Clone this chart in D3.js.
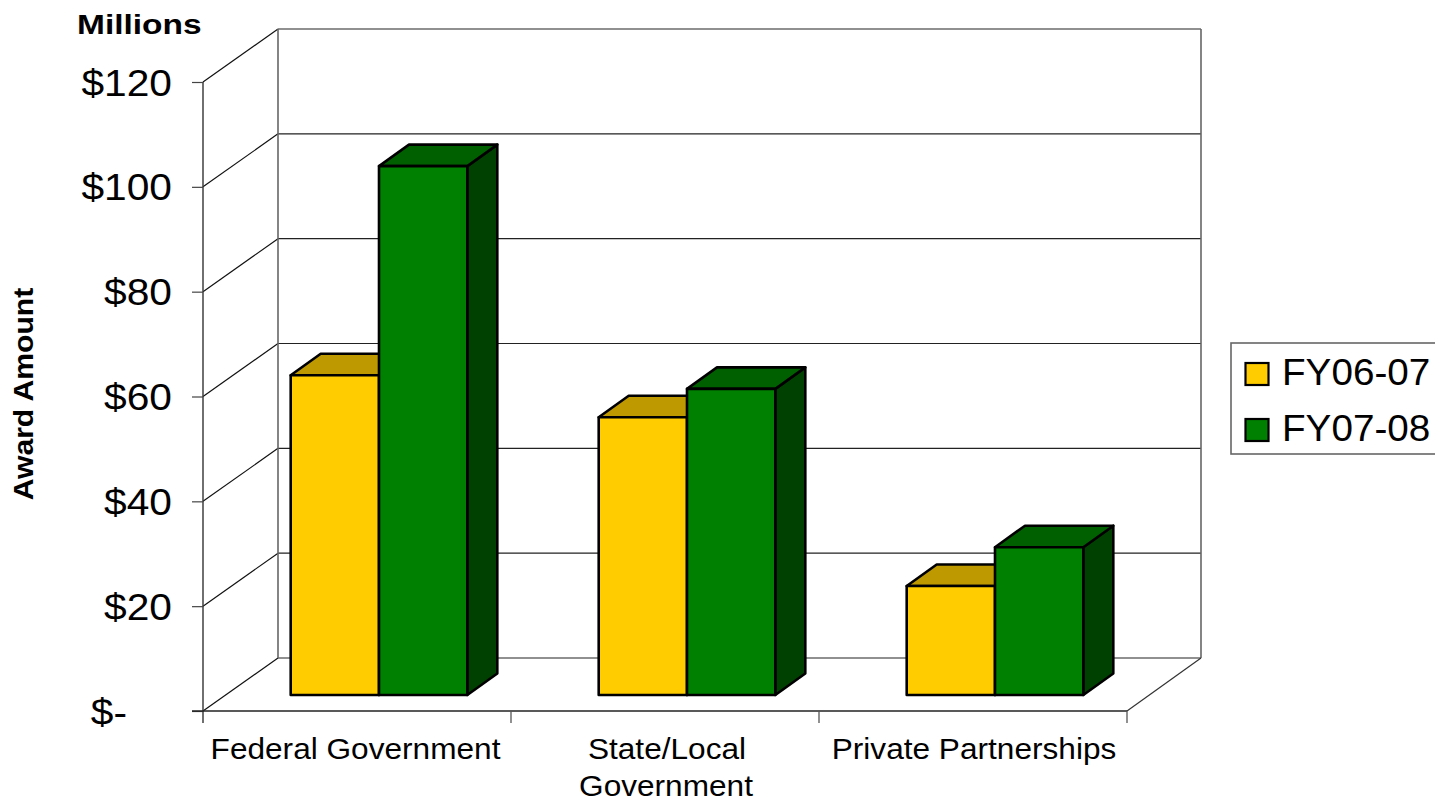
<!DOCTYPE html>
<html><head><meta charset="utf-8">
<script src="https://cdn.jsdelivr.net/npm/d3@7"></script>
<style>html,body{margin:0;padding:0;background:#fff;overflow:hidden}svg{display:block}text{font-family:"Liberation Sans",Arial,sans-serif;fill:#000}</style>
</head><body><svg id="c" width="1435" height="801"></svg>
<script>
const categories=["Federal Government","State/Local Government","Private Partnerships"];
const seriesNames=["FY06-07","FY07-08"];
const fy0607=[61,53,20.8];
const fy0708=[100.9,58.4,28.2];
const yTicks=[0,20,40,60,80,100,120];
const yTickLabels=["$-","$20","$40","$60","$80","$100","$120"];
const faceColors=["#FFCC00","#008000"];
const topColors=["#BF9900","#006000"];
const sideColors=["#806600","#004000"];

const svg=d3.select("#c");
const x0=203,x1=1127,yB=711,yT=82;
const dx=75,dy=-53;
const y=d3.scaleLinear().domain([0,120]).range([yB,yT]);
const x=d3.scaleBand().domain(categories).range([x0,x1]);
const barW=88.3, barOffX=22, barOffY=-16, depthX=30, depthY=-21.5;
const bx=d3.scaleBand().domain(seriesNames).range([-barW,barW]);

// walls
const grid=svg.append("g");
const ln=(a,b,c,d,col,w)=>grid.append("line").attr("x1",a).attr("y1",b).attr("x2",c).attr("y2",d).attr("stroke",col).attr("stroke-width",w||1);
yTicks.forEach(t=>{
  const p=y(t);
  ln(x0,p,x0+dx,p+dy,"#111",1.2);
  ln(x0+dx,p+dy,x0+dx+x.step()*3-1,p+dy,"#222",1.2);
});
ln(x0+dx,y(120)+dy,x0+dx,y(0)+dy,"#666",1.6);
ln(x1+dx-1,y(120)+dy,x1+dx-1,y(0)+dy,"#666",1.6);
ln(x1,yB,x1+dx-1,yB+dy,"#333",1.2);

// axes
const yAxis=d3.axisLeft(y).tickValues(yTicks).tickSize(11).tickPadding(20)
  .tickFormat((d,i)=>yTickLabels[i]);
const gy=svg.append("g").attr("transform",`translate(${x0},0)`).call(yAxis);
gy.selectAll("path").attr("stroke","#333").attr("stroke-width",1.4).attr("d",`M0,${yT}V${yB+12}`);
gy.selectAll("line").attr("stroke","#444").attr("stroke-width",1.2);
gy.selectAll("text").attr("font-size",37).attr("x",0).attr("dy",null).attr("y",13).style("fill","#000")
  .attr("transform",d=>`translate(${d===0?-76:-31},0) scale(1.1,1)`);

const xAxis=d3.axisBottom(x).tickSize(0).tickFormat("");
const gx=svg.append("g").attr("transform",`translate(0,${yB})`).call(xAxis);
gx.selectAll("path").attr("stroke","#222").attr("stroke-width",1.4).attr("d",`M${x0-11},0H${x1}`);
gx.selectAll(".tick").remove();
d3.range(1,4).forEach(i=>{
  const px=i<3?x(categories[i]):x1;
  gx.append("line").attr("x1",px).attr("x2",px).attr("y1",0).attr("y2",12).attr("stroke","#555").attr("stroke-width",1.3);
});
const labelLines=[["Federal Government"],["State/Local","Government"],["Private Partnerships"]];
const labelShift=[[-1.5],[2,1],[1]];
categories.forEach((c,i)=>{
  labelLines[i].forEach((s,j)=>{
    svg.append("text")
      .attr("transform",`translate(${x(c)+x.bandwidth()/2+labelShift[i][j]},${759+j*37}) scale(1.09,1)`)
      .attr("text-anchor","middle").attr("font-size",29).text(s);
  });
});

// bars
const values=[fy0607,fy0708];
categories.forEach((c,i)=>{
  const cx=x(c)+x.bandwidth()/2+barOffX;
  seriesNames.forEach((s,k)=>{
    const l=cx+bx(s), r=l+bx.bandwidth();
    const top=y(values[k][i])+barOffY, bot=y(0)+barOffY;
    const g=svg.append("g").attr("stroke","#000").attr("stroke-width",2.6).attr("stroke-linejoin","round");
    g.append("path").attr("fill",sideColors[k]).attr("d",`M${r},${top}l${depthX},${depthY}V${bot+depthY}L${r},${bot}Z`);
    g.append("path").attr("fill",topColors[k]).attr("d",`M${l},${top}l${depthX},${depthY}H${r+depthX}L${r},${top}Z`);
    g.append("rect").attr("x",l).attr("y",top).attr("width",r-l).attr("height",bot-top).attr("fill",faceColors[k]);
  });
});

// titles
svg.append("text").attr("transform","translate(77,34) scale(1.196,1)").attr("font-size",28).attr("font-weight","bold").text("Millions");
svg.append("text").attr("transform","translate(33,394) rotate(-90) scale(1.076,1)").attr("text-anchor","middle")
  .attr("font-size",28).attr("font-weight","bold").text("Award Amount");

// legend
svg.append("rect").attr("x",1231).attr("y",343).attr("width",220).attr("height",111)
  .attr("fill","#fff").attr("stroke","#666").attr("stroke-width",1.6);
seriesNames.forEach((s,k)=>{
  const cy=374+k*56;
  svg.append("rect").attr("x",1245.5).attr("y",cy-11).attr("width",23).attr("height",22)
    .attr("fill",faceColors[k]).attr("stroke","#000").attr("stroke-width",2.2);
  svg.append("text").attr("transform",`translate(1282,${cy+11}) scale(1.074,1)`).attr("font-size",36).text(s);
});
</script></body></html>
